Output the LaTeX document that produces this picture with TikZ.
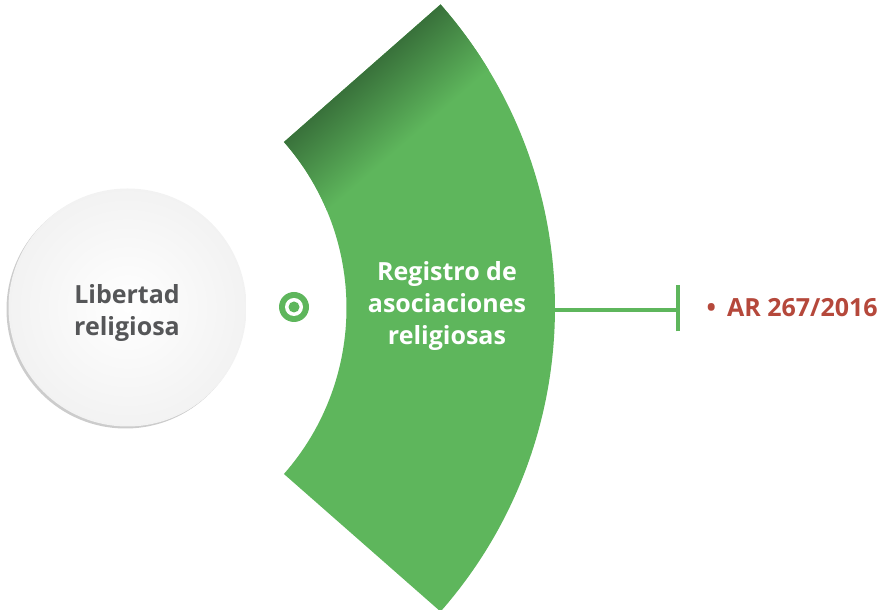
\documentclass[tikz,border=0pt]{standalone}
\usepackage{fontspec}
\setmainfont{Open Sans}
\definecolor{mygreen}{RGB}{94,182,92}
\definecolor{darkgreen}{RGB}{56,112,58}
\definecolor{redtxt}{RGB}{181,72,59}
\definecolor{graytxt}{RGB}{85,86,88}
\begin{document}
\begin{tikzpicture}[x=1pt,y=1pt,
  lbl/.style={font=\fontsize{25}{32}\selectfont\bfseries, align=center},
  conn/.style={draw=mygreen, line width=4pt}]
\useasboundingbox (0,0) rectangle (889,610);
% sector
\coordinate (C) at (95,302);
\path[fill=mygreen] ([shift={(C)}]41.3:460pt) arc[start angle=41.3,end angle=-41.3,radius=460pt]
  -- ([shift={(C)}]-41.3:251.5pt) arc[start angle=-41.3,end angle=41.3,radius=251.5pt] -- cycle;
\begin{scope}
\clip ([shift={(C)}]41.3:460pt) arc[start angle=41.3,end angle=-41.3,radius=460pt]
  -- ([shift={(C)}]-41.3:251.5pt) arc[start angle=-41.3,end angle=41.3,radius=251.5pt] -- cycle;
\begin{scope}[transform canvas={shift={(284,468)}, rotate=41.1}]
\shade[top color=darkgreen, bottom color=mygreen] (-150,2) rectangle (450,-80);
\end{scope}
\end{scope}
% circle
\fill[gray!40] (125.5,300.5) circle[radius=119pt];
\shade[inner color=white, outer color=gray!10] (127.5,302.5) circle[radius=119pt];
\node[lbl, text=graytxt] (lib) at (127,297) {Libertad\\religiosa};
% target
\fill[mygreen] (294,303) circle[radius=15pt];
\fill[white] (294,303) circle[radius=9pt];
\fill[mygreen] (294,303) circle[radius=5.5pt];
\node (tgt) at (294,303) {};
% text in sector
\node[lbl, text=white] (reg) at (447,304) {Registro de\\asociaciones\\religiosas};
% connector
\coordinate (a) at (553,300);
\coordinate (b) at (678,300);
\draw[conn] (a) -- (b);
\draw[conn] (678,278.5) -- (678,324.5);
\node[lbl, text=redtxt, anchor=base west] (ar) at (703,293) {\textbullet\hspace{0.45em}AR 267/2016};
\end{tikzpicture}
\end{document}
